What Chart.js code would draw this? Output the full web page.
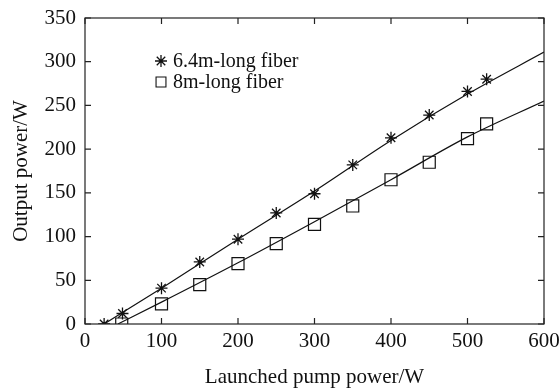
<!DOCTYPE html>
<html>
<head>
<meta charset="utf-8">
<script src="https://cdn.jsdelivr.net/npm/chart.js@4/dist/chart.umd.min.js"></script>
<style>
  html, body { margin: 0; padding: 0; background: #fff; }
  #wrap { width: 559px; height: 390px; }
</style>
</head>
<body>
<div id="wrap"><canvas id="myChart" width="559" height="390"></canvas></div>
<script>
// measured points
const starX = [25, 49, 100, 150, 200, 250, 300, 350, 400, 450, 500, 525];
const starY = [0, 12, 41, 71, 97, 127, 149, 182, 213, 239, 266, 280];
const squareX = [48, 100, 150, 200, 250, 300, 350, 400, 450, 500, 525];
const squareY = [0, 23, 45, 69, 92, 114, 135, 165, 185, 212, 229];

// fitted lines
const fitStarX = [25, 100, 200, 300, 400, 500, 600];
const fitStarY = [0, 41, 97, 152, 210, 263, 311];
const fitSquareX = [43, 100, 200, 300, 400, 500, 600];
const fitSquareY = [0, 25, 70, 117, 165, 214, 255];

const legendLabels = ['6.4m-long fiber', '8m-long fiber'];
const xTicks = [0, 100, 200, 300, 400, 500, 600];
const yTicks = [0, 50, 100, 150, 200, 250, 300, 350];

const toPts = (xs, ys) => xs.map((x, i) => ({ x: x, y: ys[i] }));
const serif = 'Liberation Serif, Times New Roman, serif';
const ink = '#111';

// box + inward ticks on all four sides
const frame = {
  id: 'frame',
  afterDraw(chart) {
    const { ctx, chartArea: a, scales } = chart;
    ctx.save();
    ctx.strokeStyle = '#222';
    ctx.lineWidth = 1.2;
    ctx.strokeRect(a.left, a.top, a.right - a.left, a.bottom - a.top);
    ctx.beginPath();
    xTicks.forEach(v => {
      const px = scales.x.getPixelForValue(v);
      ctx.moveTo(px, a.bottom); ctx.lineTo(px, a.bottom - 6);
      ctx.moveTo(px, a.top); ctx.lineTo(px, a.top + 6);
    });
    yTicks.forEach(v => {
      const py = scales.y.getPixelForValue(v);
      ctx.moveTo(a.left, py); ctx.lineTo(a.left + 6, py);
      ctx.moveTo(a.right, py); ctx.lineTo(a.right - 6, py);
    });
    ctx.stroke();
    ctx.restore();
  }
};

// legend inside the plot, top left
const innerLegend = {
  id: 'innerLegend',
  afterDraw(chart) {
    const { ctx, chartArea: a } = chart;
    const styles = [
      { pointStyle: 'star', radius: 6, borderWidth: 1.3 },
      { pointStyle: 'rect', radius: 7, borderWidth: 1.1 }
    ];
    ctx.save();
    ctx.font = '20px ' + serif;
    ctx.textBaseline = 'middle';
    legendLabels.forEach((lab, i) => {
      const y = a.top + 43 + i * 21;
      ctx.strokeStyle = ink;
      ctx.fillStyle = 'rgba(0,0,0,0)';
      ctx.lineWidth = styles[i].borderWidth;
      Chart.helpers.drawPoint(ctx, styles[i], a.left + 76, y);
      ctx.fillStyle = ink;
      ctx.fillText(lab, a.left + 88, y + 1);
    });
    ctx.restore();
  }
};

new Chart(document.getElementById('myChart'), {
  type: 'scatter',
  data: {
    datasets: [
      {
        data: toPts(starX, starY),
        pointStyle: 'star', pointRadius: 6, borderColor: ink, backgroundColor: ink,
        pointBorderWidth: 1.3, showLine: false
      },
      {
        data: toPts(squareX, squareY),
        pointStyle: 'rect', pointRadius: 8.5, borderColor: ink, backgroundColor: 'rgba(0,0,0,0)',
        pointBorderWidth: 1.2, showLine: false
      },
      {
        data: toPts(fitStarX, fitStarY),
        showLine: true, pointRadius: 0, borderColor: ink, borderWidth: 1.2,
        cubicInterpolationMode: 'monotone'
      },
      {
        data: toPts(fitSquareX, fitSquareY),
        showLine: true, pointRadius: 0, borderColor: ink, borderWidth: 1.2,
        cubicInterpolationMode: 'monotone'
      }
    ]
  },
  options: {
    responsive: false,
    animation: false,
    layout: { padding: { top: 18, right: 15, left: 0, bottom: 0 } },
    plugins: { legend: { display: false }, tooltip: { enabled: false } },
    scales: {
      x: {
        type: 'linear', min: 0, max: 600,
        afterBuildTicks: s => { s.ticks = xTicks.map(v => ({ value: v })); },
        afterFit: s => { s.height = 66; s.paddingLeft = 0; s.paddingRight = 0; },
        grid: { display: false, drawTicks: false },
        border: { display: false },
        ticks: { color: ink, padding: 5, maxRotation: 0, font: { family: serif, size: 21 } },
        title: {
          display: true, text: 'Launched pump power/W', color: ink,
          font: { family: serif, size: 21 }, padding: { top: 0, bottom: 0 }
        }
      },
      y: {
        type: 'linear', min: 0, max: 350,
        afterBuildTicks: s => { s.ticks = yTicks.map(v => ({ value: v })); },
        afterFit: s => { s.width = 85; s.paddingTop = 0; s.paddingBottom = 0; },
        grid: { display: false, drawTicks: false },
        border: { display: false },
        ticks: { color: ink, padding: 9, font: { family: serif, size: 21 } },
        title: {
          display: true, text: 'Output power/W', color: ink,
          font: { family: serif, size: 21 }, padding: { top: 9, bottom: 0 }
        }
      }
    }
  },
  plugins: [frame, innerLegend]
});
</script>
</body>
</html>
